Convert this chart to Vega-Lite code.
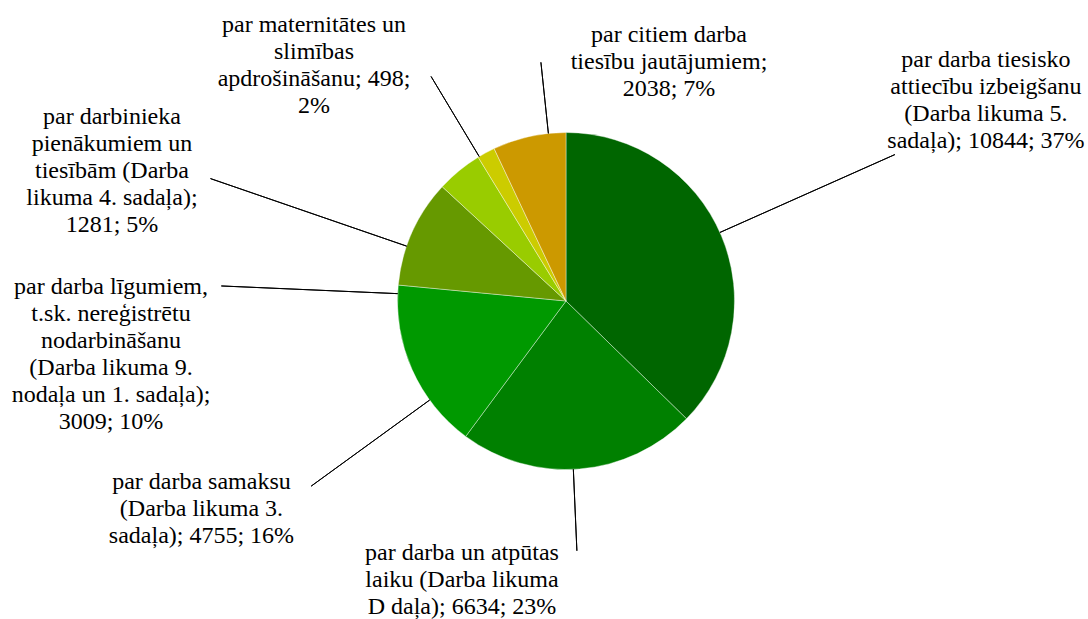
{
  "$schema": "https://vega.github.io/schema/vega-lite/v6.json",
  "autosize": {"type": "none"},
  "width": 1044,
  "height": 602,
  "padding": {"left": 44, "top": 0, "right": 0, "bottom": 17},
  "background": "white",
  "config": {"view": {"stroke": null}},
  "data": {"values": [
    {"n": 1, "cat": "izbeigšana", "value": 10844, "label": "par darba tiesisko\nattiecību izbeigšanu\n(Darba likuma 5.\nsadaļa); 10844; 37%"},
    {"n": 2, "cat": "laiks", "value": 6634, "label": "par darba un atpūtas\nlaiku (Darba likuma\nD daļa); 6634; 23%"},
    {"n": 3, "cat": "samaksa", "value": 4755, "label": "par darba samaksu\n(Darba likuma 3.\nsadaļa); 4755; 16%"},
    {"n": 4, "cat": "līgumi", "value": 3009, "label": "par darba līgumiem,\nt.sk. nereģistrētu\nnodarbināšanu\n(Darba likuma 9.\nnodaļa un 1. sadaļa);\n3009; 10%"},
    {"n": 5, "cat": "pienākumi", "value": 1281, "label": "par darbinieka\npienākumiem un\ntiesībām (Darba\nlikuma 4. sadaļa);\n1281; 5%"},
    {"n": 6, "cat": "maternitāte", "value": 498, "label": "par maternitātes un\nslimības\napdrošināšanu; 498;\n2%"},
    {"n": 7, "cat": "citi", "value": 2038, "label": "par citiem darba\ntiesību jautājumiem;\n2038; 7%"}
  ]},
  "encoding": {
    "theta": {"field": "value", "type": "quantitative", "stack": true},
    "order": {"field": "n", "type": "quantitative"}
  },
  "layer": [
    {
      "mark": {"type": "arc", "radius": 168.5, "stroke": "#ffffff", "strokeWidth": 0.4},
      "encoding": {
        "color": {"field": "cat", "type": "nominal", "legend": null,
          "scale": {"domain": ["izbeigšana", "laiks", "samaksa", "līgumi", "pienākumi", "maternitāte", "citi"],
                    "range": ["#006600", "#008000", "#009900", "#669900", "#99cc00", "#cccc00", "#cc9900"]}}
      }
    },
    {"mark": {"type": "arc", "filled": false, "color": "#000000", "strokeWidth": 1, "padAngle": 3.14159, "radius": 360, "radius2": 168.5, "thetaOffset": -0.02044},
     "encoding": {"strokeOpacity": {"condition": {"test": "datum.n === 1", "value": 1}, "value": 0}}},
    {"mark": {"type": "arc", "filled": false, "color": "#000000", "strokeWidth": 1, "padAngle": 3.14159, "radius": 250, "radius2": 168.5, "thetaOffset": 0.03604},
     "encoding": {"strokeOpacity": {"condition": {"test": "datum.n === 2", "value": 1}, "value": 0}}},
    {"mark": {"type": "arc", "filled": false, "color": "#000000", "strokeWidth": 1, "padAngle": 3.14159, "radius": 315, "radius2": 168.5, "thetaOffset": -0.20913},
     "encoding": {"strokeOpacity": {"condition": {"test": "datum.n === 3", "value": 1}, "value": 0}}},
    {"mark": {"type": "arc", "filled": false, "color": "#000000", "strokeWidth": 1, "padAngle": 3.14159, "radius": 345, "radius2": 168.5, "thetaOffset": -0.37656},
     "encoding": {"strokeOpacity": {"condition": {"test": "datum.n === 4", "value": 1}, "value": 0}}},
    {"mark": {"type": "arc", "filled": false, "color": "#000000", "strokeWidth": 1, "padAngle": 3.14159, "radius": 376, "radius2": 168.5, "thetaOffset": -0.55236},
     "encoding": {"strokeOpacity": {"condition": {"test": "datum.n === 5", "value": 1}, "value": 0}}},
    {"mark": {"type": "arc", "filled": false, "color": "#000000", "strokeWidth": 1, "padAngle": 3.14159, "radius": 262, "radius2": 168.5, "thetaOffset": -0.04657},
     "encoding": {"strokeOpacity": {"condition": {"test": "datum.n === 6", "value": 1}, "value": 0}}},
    {"mark": {"type": "arc", "filled": false, "color": "#000000", "strokeWidth": 1, "padAngle": 3.14159, "radius": 240, "radius2": 168.5, "thetaOffset": 0.11561},
     "encoding": {"strokeOpacity": {"condition": {"test": "datum.n === 7", "value": 1}, "value": 0}}},
    {"mark": {"type": "text", "font": "Liberation Serif", "fontSize": 24, "lineHeight": 27, "lineBreak": "\n", "align": "center", "baseline": "middle", "color": "#000000", "radius": 484.2, "thetaOffset": -0.1225},
     "encoding": {"text": {"condition": {"test": "datum.n === 1", "field": "label"}, "value": ""}}},
    {"mark": {"type": "text", "font": "Liberation Serif", "fontSize": 24, "lineHeight": 27, "lineBreak": "\n", "align": "center", "baseline": "middle", "color": "#000000", "radius": 272.6, "thetaOffset": 0.4712},
     "encoding": {"text": {"condition": {"test": "datum.n === 2", "field": "label"}, "value": ""}}},
    {"mark": {"type": "text", "font": "Liberation Serif", "fontSize": 24, "lineHeight": 27, "lineBreak": "\n", "align": "center", "baseline": "middle", "color": "#000000", "radius": 407.0, "thetaOffset": -0.0417},
     "encoding": {"text": {"condition": {"test": "datum.n === 3", "field": "label"}, "value": ""}}},
    {"mark": {"type": "text", "font": "Liberation Serif", "fontSize": 24, "lineHeight": 27, "lineBreak": "\n", "align": "center", "baseline": "middle", "color": "#000000", "radius": 455.2, "thetaOffset": -0.3895},
     "encoding": {"text": {"condition": {"test": "datum.n === 4", "field": "label"}, "value": ""}}},
    {"mark": {"type": "text", "font": "Liberation Serif", "fontSize": 24, "lineHeight": 27, "lineBreak": "\n", "align": "center", "baseline": "middle", "color": "#000000", "radius": 489.9, "thetaOffset": -0.4990},
     "encoding": {"text": {"condition": {"test": "datum.n === 5", "field": "label"}, "value": ""}}},
    {"mark": {"type": "text", "font": "Liberation Serif", "fontSize": 24, "lineHeight": 27, "lineBreak": "\n", "align": "center", "baseline": "middle", "color": "#000000", "radius": 373.7, "thetaOffset": -0.2455},
     "encoding": {"text": {"condition": {"test": "datum.n === 6", "field": "label"}, "value": ""}}},
    {"mark": {"type": "text", "font": "Liberation Serif", "fontSize": 24, "lineHeight": 27, "lineBreak": "\n", "align": "center", "baseline": "middle", "color": "#000000", "radius": 285.2, "thetaOffset": 0.5898},
     "encoding": {"text": {"condition": {"test": "datum.n === 7", "field": "label"}, "value": ""}}}
  ]
}
